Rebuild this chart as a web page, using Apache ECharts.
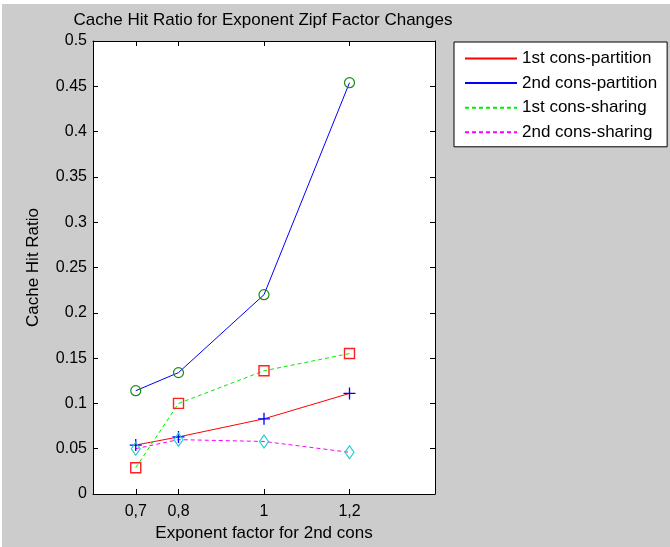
<!DOCTYPE html>
<html>
<head>
<meta charset="utf-8">
<script src="https://cdn.jsdelivr.net/npm/echarts@6/dist/echarts.min.js"></script>
<style>
  html, body { margin: 0; padding: 0; background: #ffffff; width: 670px; height: 547px; overflow: hidden; }
  #chart { position: absolute; left: 2px; top: 4px; width: 668px; height: 543px; }
</style>
</head>
<body>
<div id="chart"></div>
<script>
// ---- data ----
const xValues = [0.7, 0.8, 1, 1.2];
const xTickLabels = ['0,7', '0,8', '1', '1,2'];
const seriesNames = ['1st cons-partition', '2nd cons-partition', '1st cons-sharing', '2nd cons-sharing'];
const consPartition1 = [0.054, 0.063, 0.083, 0.111];
const consPartition2 = [0.114, 0.134, 0.220, 0.454];
const consSharing1 = [0.029, 0.100, 0.136, 0.155];
const consSharing2 = [0.050, 0.060, 0.058, 0.046];
const titleText = 'Cache Hit Ratio for Exponent Zipf Factor Changes';
const xAxisTitle = 'Exponent factor for 2nd cons';
const yAxisTitle = 'Cache Hit Ratio';

const FONT = '"Liberation Sans", Arial, Helvetica, sans-serif';
const pairs = vals => xValues.map((x, i) => [x, vals[i]]);

const styles = [
  { vals: consPartition1, line: '#ff0000', type: 'solid', sym: 'path://M5 0L5 10M0 5L10 5', size: 12, mark: '#0000ff', bw: 1.3 },
  { vals: consPartition2, line: '#0000ff', type: 'solid', sym: 'circle', size: 10, mark: '#1a8a1a', bw: 1.2 },
  { vals: consSharing1, line: '#00ee00', type: [4, 3], sym: 'rect', size: 10, mark: '#ff2020', bw: 1.4 },
  { vals: consSharing2, line: '#ff00ff', type: [4, 3], sym: 'diamond', size: [9, 13], mark: '#20d0d0', bw: 1.2 }
];

const series = [];
styles.forEach((s, i) => {
  series.push({
    name: seriesNames[i],
    type: 'line',
    data: pairs(s.vals),
    symbol: 'none',
    color: s.line,
    lineStyle: { color: s.line, width: 1, type: s.type },
    xAxisIndex: 0, yAxisIndex: 0,
    z: 2,
    animation: false
  });
});
styles.forEach((s, i) => {
  series.push({
    name: seriesNames[i] + ' markers',
    type: 'scatter',
    data: pairs(s.vals),
    symbol: s.sym,
    symbolSize: s.size,
    itemStyle: { color: 'transparent', borderColor: s.mark, borderWidth: s.bw, opacity: 1 },
    xAxisIndex: 0, yAxisIndex: 0,
    z: 3,
    animation: false,
    silent: true
  });
});

const axisLine = { show: true, onZero: false, lineStyle: { color: '#000', width: 1 } };
const tickLabelStyle = { color: '#000', fontSize: 16, fontFamily: FONT };
const textStyle17 = { color: '#000', fontSize: 17, fontFamily: FONT };

const chart = echarts.init(document.getElementById('chart'), null, { renderer: 'canvas' });
chart.setOption({
  backgroundColor: '#cccccc',
  animation: false,
  title: {
    text: titleText,
    left: 261, top: 8, textAlign: 'center', padding: 0,
    textStyle: { ...textStyle17, fontWeight: 'normal' }
  },
  grid: { left: 91, top: 37, width: 342, height: 454, show: true, backgroundColor: '#ffffff', borderWidth: 0 },
  legend: {
    data: seriesNames,
    orient: 'vertical',
    left: 452, top: 38,
    padding: [8, 10, 6, 10],
    itemWidth: 52, itemHeight: 17, itemGap: 7.6,
    backgroundColor: '#ffffff', borderColor: '#000', borderWidth: 1, borderRadius: 0,
    textStyle: { ...textStyle17 },
    itemStyle: { color: 'transparent', borderColor: 'transparent', borderWidth: 0, opacity: 0 },
    selectedMode: false
  },
  xAxis: [
    {
      type: 'value', position: 'bottom', min: 0.6, max: 1.4,
      axisLine: axisLine,
      axisTick: { show: true, inside: true, length: 5, customValues: xValues, lineStyle: { color: '#000' } },
      axisLabel: {
        show: true, customValues: xValues, margin: 10, ...tickLabelStyle,
        formatter: v => { const i = xValues.findIndex(x => Math.abs(x - v) < 1e-9); return i >= 0 ? xTickLabels[i] : ''; }
      },
      splitLine: { show: false },
      name: xAxisTitle, nameLocation: 'middle', nameGap: 31,
      nameTextStyle: { ...textStyle17 }
    },
    {
      type: 'value', position: 'top', min: 0.6, max: 1.4,
      axisLine: axisLine,
      axisTick: { show: true, inside: true, length: 5, customValues: xValues, lineStyle: { color: '#000' } },
      axisLabel: { show: false },
      splitLine: { show: false }
    }
  ],
  yAxis: [
    {
      type: 'value', position: 'left', min: 0, max: 0.5, interval: 0.05,
      axisLine: axisLine,
      axisTick: { show: true, inside: true, length: 5, lineStyle: { color: '#000' } },
      axisLabel: { show: true, margin: 6, ...tickLabelStyle },
      splitLine: { show: false },
      name: yAxisTitle, nameLocation: 'middle', nameGap: 51,
      nameTextStyle: { ...textStyle17 }
    },
    {
      type: 'value', position: 'right', min: 0, max: 0.5, interval: 0.05,
      axisLine: axisLine,
      axisTick: { show: true, inside: true, length: 5, lineStyle: { color: '#000' } },
      axisLabel: { show: false },
      splitLine: { show: false }
    }
  ],
  series: series
});
</script>
</body>
</html>
